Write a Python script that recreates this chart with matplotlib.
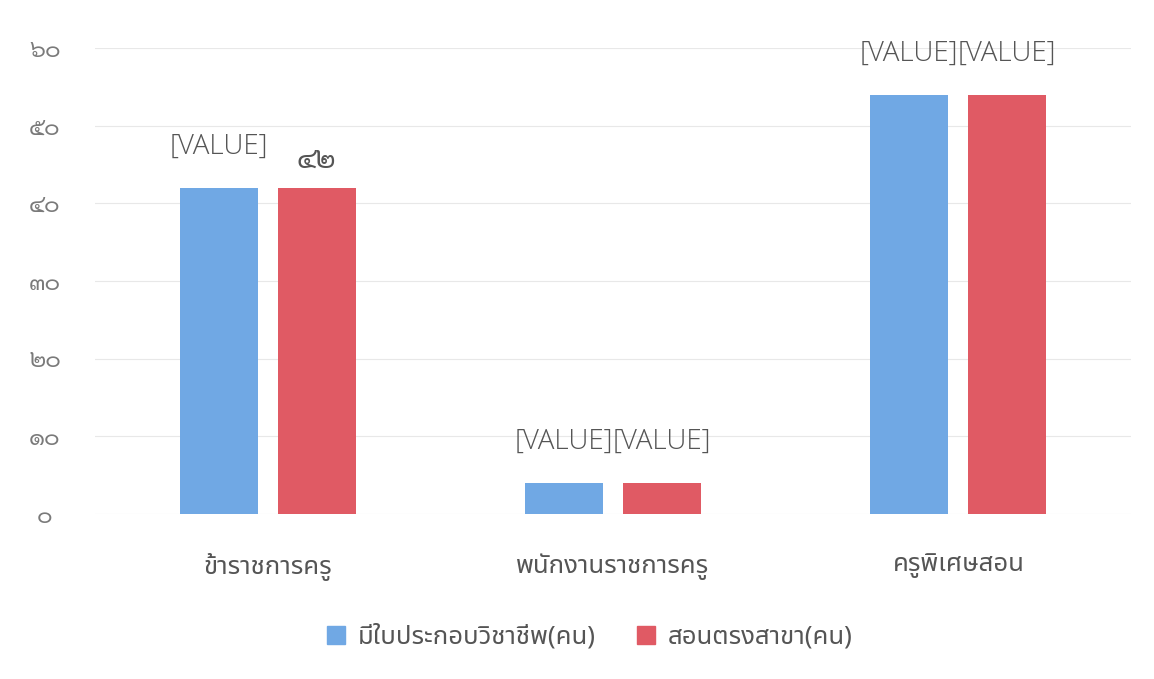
import numpy as np
import matplotlib
matplotlib.use("Agg")
import matplotlib.pyplot as plt
from matplotlib.patches import Patch

categories = ["ข้าราชการครู", "พนักงานราชการครู", "ครูพิเศษสอน"]
series_names = ["มีใบประกอบวิชาชีพ(คน)", "สอนตรงสาขา(คน)"]
licensed = [42, 4, 54]
matching = [42, 4, 54]
licensed_labels = ["[VALUE]", "[VALUE]", "[VALUE]"]
matching_labels = ["๔๒", "[VALUE]", "[VALUE]"]
yticks = [0, 10, 20, 30, 40, 50, 60]
ytick_labels = ["๐", "๑๐", "๒๐", "๓๐", "๔๐", "๕๐", "๖๐"]

BLUE = "#70a8e4"
RED = "#e05a64"
TEXT = "#555555"
THAI = ["Noto Sans Thai", "DejaVu Sans"]
DIGITS = ["Sarabun", "DejaVu Sans"]


def label_bars(ax, bars, labels):
    for bar, text in zip(bars, labels):
        x = bar.get_x() + bar.get_width() / 2
        top = bar.get_height()
        if text.startswith("["):
            ax.annotate(text, (x, top), xytext=(0, 29.5), textcoords="offset points",
                        ha="center", va="center", fontsize=20, color=TEXT,
                        family=["Open Sans", "DejaVu Sans"], fontweight="light")
        else:
            ax.annotate(text, (x, top), xytext=(0, 19.5), textcoords="offset points",
                        ha="center", va="center", fontsize=21, color=TEXT, family=DIGITS)


def main():
    fig = plt.figure(figsize=(11.54, 6.79), dpi=100)
    ax = fig.add_axes([95 / 1154, 1 - 514 / 679, (1131 - 95) / 1154, (514 - 48) / 679])

    x = np.arange(len(categories))
    width = 0.226
    off = 0.142
    b1 = ax.bar(x - off, licensed, width, color=BLUE)
    b2 = ax.bar(x + off, matching, width, color=RED)
    label_bars(ax, b1, licensed_labels)
    label_bars(ax, b2, matching_labels)

    ax.set_xlim(-0.5, 2.5)
    ax.set_ylim(0, 60)
    ax.set_yticks(yticks)
    ax.set_yticklabels(ytick_labels, family=DIGITS, fontsize=17, color="#7a7a7a", ha="center")
    ax.set_xticks(x)
    ax.set_xticklabels(categories, family=THAI, fontsize=18.5, color=TEXT, fontweight="light")
    ax.tick_params(axis="y", length=0, pad=36)
    ax.tick_params(axis="x", length=0, pad=28)
    for s in ax.spines.values():
        s.set_visible(False)
    ax.set_axisbelow(True)
    ax.yaxis.grid(True, color="#e8e8e8", linewidth=0.8)

    handles = [Patch(color=BLUE), Patch(color=RED)]
    fig.legend(handles, series_names, loc="center", bbox_to_anchor=(590 / 1154, 1 - 637 / 679),
               ncol=2, frameon=False, handlelength=0.7, handleheight=0.7, columnspacing=1.6,
               handletextpad=0.5, prop={"family": THAI, "size": 18.5, "weight": "light"},
               labelcolor=TEXT)

    fig.savefig("out.png", facecolor="white")


if __name__ == "__main__":
    main()
